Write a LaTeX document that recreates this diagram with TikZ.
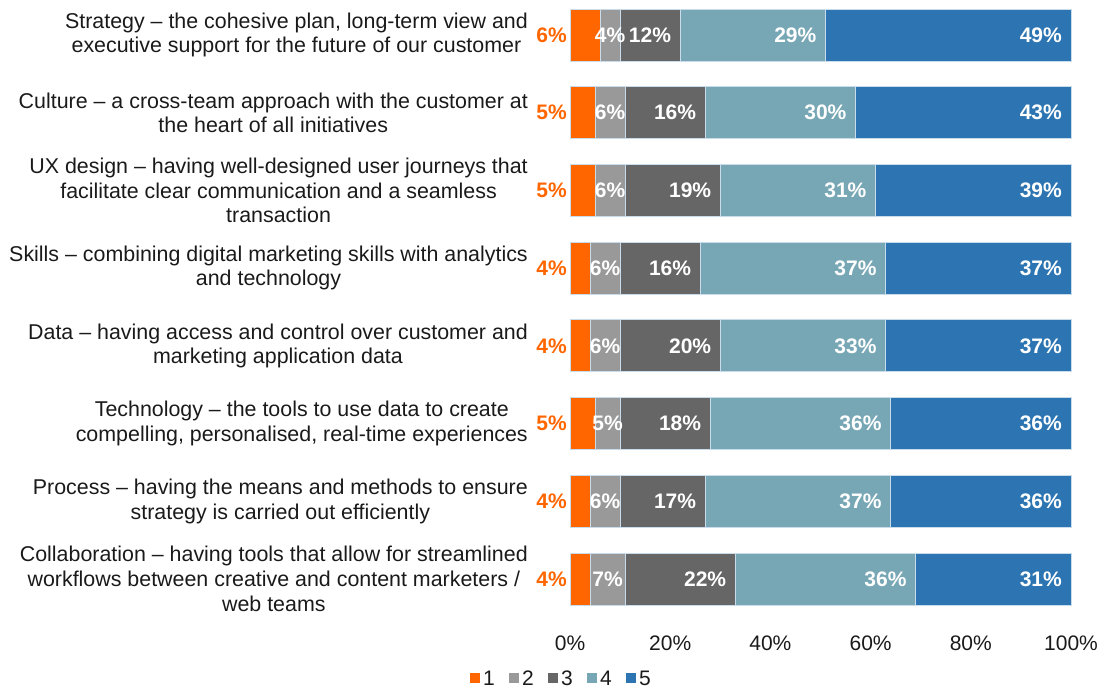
\documentclass[tikz,border=0pt]{standalone}
\usepackage{fontspec}
\setmainfont{Liberation Sans}
\definecolor{rateone}{HTML}{FF6600}
\definecolor{ratetwo}{HTML}{999999}
\definecolor{ratethree}{HTML}{666666}
\definecolor{ratefour}{HTML}{77A7B5}
\definecolor{ratefive}{HTML}{2C75B2}
\definecolor{barline}{HTML}{C9DCEC}
\definecolor{labtext}{HTML}{1A1A1A}

\begin{document}
\begin{tikzpicture}[x=1pt,y=-1pt,
    txt/.style={font=\fontsize{21}{24.5}\selectfont,inner sep=0pt,text=labtext},
    cat/.style={txt,font=\fontsize{21.4}{24.6}\selectfont,align=center,anchor=east},
    pct/.style={inner sep=0pt,font=\fontsize{21}{24.5}\selectfont\bfseries,text=white},
    seg/.style={draw=barline,line width=0.8pt}]
    \useasboundingbox (0,0) rectangle (1104,688);
    \foreach \i/\lab/\va/\vb/\vc/\vd/\ve in {
        1/{Strategy \textendash{} the cohesive plan, long-term view and\\executive support for the future of our customer}/6/4/12/29/49,
        2/{Culture \textendash{} a cross-team approach with the customer at\\the heart of all initiatives}/5/6/16/30/43,
        3/{UX design \textendash{} having well-designed user journeys that\\facilitate clear communication and a seamless\\transaction}/5/6/19/31/39,
        4/{Skills \textendash{} combining digital marketing skills with analytics\\and technology}/4/6/16/37/37,
        5/{Data \textendash{} having access and control over customer and\\marketing application data}/4/6/20/33/37,
        6/{Technology \textendash{} the tools to use data to create\\compelling, personalised, real-time experiences}/5/5/18/36/36,
        7/{Process \textendash{} having the means and methods to ensure\\strategy is carried out efficiently}/4/6/17/37/36,
        8/{Collaboration \textendash{} having tools that allow for streamlined\\workflows between creative and content marketers /\\web teams}/4/7/22/36/31}
    {
        \pgfmathsetmacro\yc{35+77.7*(\i-1)}
        \pgfmathsetmacro\xa{570+5.01*\va}
        \pgfmathsetmacro\xb{\xa+5.01*\vb}
        \pgfmathsetmacro\xc{\xb+5.01*\vc}
        \pgfmathsetmacro\xd{\xc+5.01*\vd}
        \pgfmathsetmacro\xe{\xd+5.01*\ve}
        \filldraw[seg,fill=rateone](570,\yc-26)rectangle(\xa,\yc+26);
        \filldraw[seg,fill=ratetwo](\xa,\yc-26)rectangle(\xb,\yc+26);
        \filldraw[seg,fill=ratethree](\xb,\yc-26)rectangle(\xc,\yc+26);
        \filldraw[seg,fill=ratefour](\xc,\yc-26)rectangle(\xd,\yc+26);
        \filldraw[seg,fill=ratefive](\xd,\yc-26)rectangle(\xe,\yc+26);
        \node[cat](cat\i) at (528,\yc){\lab};
        \node[pct,text=rateone,anchor=east](one\i) at (567,\yc){\va\%};
        \node[pct](two\i) at ({(\xa+\xb)/2},\yc){\vb\%};
        \node[pct,anchor=east](three\i) at (\xc-9,\yc){\vc\%};
        \node[pct,anchor=east](four\i) at (\xd-9,\yc){\vd\%};
        \node[pct,anchor=east](five\i) at (\xe-9,\yc){\ve\%};
    }
    \foreach \p in {0,20,...,100}
        \node[txt](tick\p) at ({570+5.01*\p},643){\p\%};
    \foreach \k/\col in {1/rateone,2/ratetwo,3/ratethree,4/ratefour,5/ratefive}{
        \node[fill=\col,inner sep=0pt,minimum size=10.6pt](key\k) at ({475+39*(\k-1)},678){};
        \node[txt,anchor=west](leg\k) at ([xshift=2.5pt]key\k.east){\k};
    }
\end{tikzpicture}
\end{document}
